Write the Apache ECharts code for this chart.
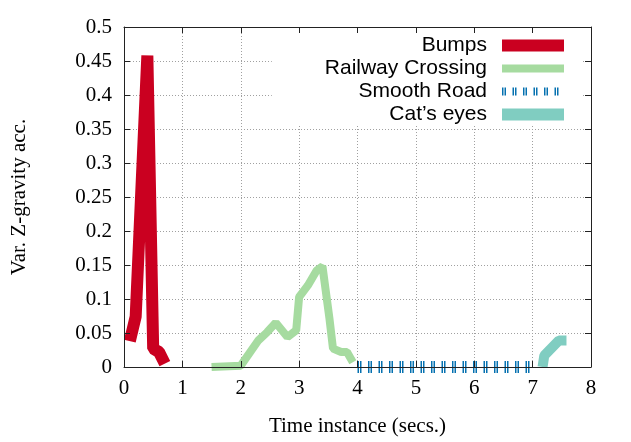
<!DOCTYPE html>
<html>
<head>
<meta charset="utf-8">
<script src="https://cdn.jsdelivr.net/npm/echarts@6/dist/echarts.min.js"></script>
<style>
  html, body { margin: 0; padding: 0; background: #fff; }
  #chart { width: 631px; height: 442px; }
</style>
</head>
<body>
<div id="chart"></div>
<script>
// Tick labels
const xTicks = [0, 1, 2, 3, 4, 5, 6, 7, 8];
const yTicks = [0, 0.05, 0.1, 0.15, 0.2, 0.25, 0.3, 0.35, 0.4, 0.45, 0.5];

// Series: [time, variance]
const seriesNames = ['Bumps', 'Railway Crossing', 'Smooth Road', 'Cat\u2019s eyes'];
const bumps = [[0.1, 0.038], [0.2, 0.074], [0.4, 0.458], [0.5, 0.027], [0.6, 0.022], [0.7, 0.005]];
const railwayCrossing = [
  [1.5, 0.0], [2.0, 0.002], [2.3, 0.039], [2.45, 0.051], [2.6, 0.065], [2.8, 0.044],
  [2.95, 0.054], [3.0, 0.103], [3.15, 0.12], [3.3, 0.142], [3.4, 0.148], [3.52, 0.071],
  [3.58, 0.027], [3.72, 0.022], [3.82, 0.022], [3.92, 0.007]
];
const smoothRoad = [[4, 0], [5, 0], [6, 0], [7, 0]];
const catsEyes = [[7.17, 0.0], [7.2, 0.017], [7.45, 0.039], [7.58, 0.039]];

const colors = ['#ca0020', '#a6dba0', '#0571b0', '#80cdc1'];

const serifFont = 'Liberation Serif';
const sansFont = 'Liberation Sans';
const xRange = { min: xTicks[0], max: xTicks[xTicks.length - 1], interval: xTicks[1] - xTicks[0] };
const yRange = { min: yTicks[0], max: yTicks[yTicks.length - 1], interval: +(yTicks[1] - yTicks[0]).toFixed(4) };

// Frame with inward ticks, drawn above the series.
function frameAxis(position, range) {
  return {
    type: 'value', position, z: 10, ...range,
    axisLine: { show: true, onZero: false, lineStyle: { color: '#222', width: 1 } },
    axisTick: { show: true, inside: true, length: 6, lineStyle: { color: '#222' } },
    axisLabel: { show: false },
    splitLine: { show: false },
  };
}

const labelStyle = { fontFamily: serifFont, fontSize: 21, color: '#000' };
const gridLine = { show: true, lineStyle: { type: [1, 2], color: '#a0a0a0', width: 1 } };

function lineSeries(name, data, color, width, dash) {
  return {
    type: 'line', name, data, symbol: 'none', silent: true, animation: false,
    lineStyle: { color, width, type: dash || 'solid', cap: 'butt', join: 'bevel' },
    itemStyle: { color },
  };
}

const legendWidths = [12, 8, 8, 12];

const option = {
  backgroundColor: '#fff',
  animation: false,
  grid: { left: 124, right: 40, top: 27, bottom: 74 },
  legend: {
    data: seriesNames.map((name, i) => ({ name, lineStyle: { width: legendWidths[i] }, itemStyle: { opacity: 0 } })),
    orient: 'vertical', align: 'right',
    right: 49, top: 27,
    itemWidth: 62, itemHeight: 12, itemGap: 0,
    padding: [7, 12, 0, 53],
    backgroundColor: '#fff',
    selectedMode: false,
    textStyle: { fontFamily: sansFont, fontSize: 21, color: '#000', lineHeight: 23, padding: [0, 10, 0, 0] },
  },
  xAxis: [
    {
      type: 'value', position: 'bottom', ...xRange,
      name: 'Time instance (secs.)', nameLocation: 'middle', nameGap: 49,
      nameTextStyle: labelStyle,
      axisLine: { show: false }, axisTick: { show: false },
      axisLabel: { margin: 11, ...labelStyle },
      splitLine: gridLine,
    },
    frameAxis('bottom', xRange),
    frameAxis('top', xRange),
  ],
  yAxis: [
    {
      type: 'value', position: 'left', ...yRange,
      name: 'Var. Z-gravity acc.', nameLocation: 'middle', nameGap: 94,
      nameTextStyle: labelStyle,
      axisLine: { show: false }, axisTick: { show: false },
      axisLabel: { margin: 12, ...labelStyle },
      splitLine: gridLine,
    },
    frameAxis('left', yRange),
    frameAxis('right', yRange),
  ],
  series: [
    lineSeries(seriesNames[0], bumps, colors[0], 12),
    lineSeries(seriesNames[1], railwayCrossing, colors[1], 8),
    lineSeries(seriesNames[2], smoothRoad, colors[2], 12, [1.5, 1, 1.5, 6.5]),
    lineSeries(seriesNames[3], catsEyes, colors[3], 10),
  ],
};

const chart = echarts.init(document.getElementById('chart'), null, { renderer: 'canvas' });
chart.setOption(option);
</script>
</body>
</html>
